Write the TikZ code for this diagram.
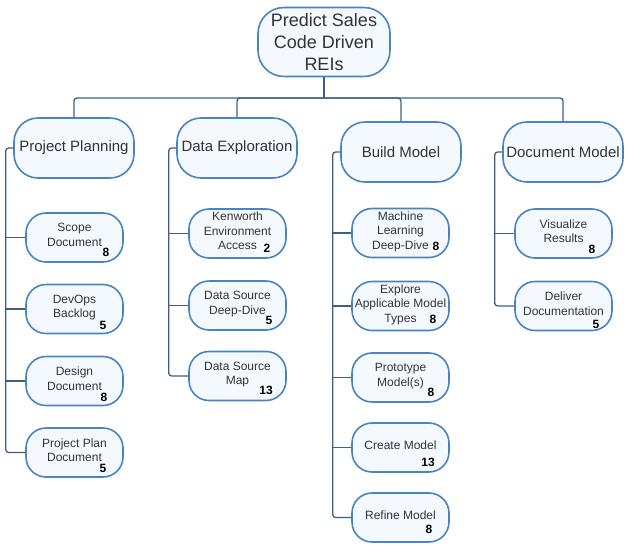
\documentclass[tikz,border=0pt]{standalone}
\usepackage{fontspec}
\setmainfont{Liberation Sans}
\definecolor{boxline}{HTML}{4A84C0}
\definecolor{boxfill}{HTML}{F4F9FF}
\definecolor{wire}{HTML}{3E5F85}
\definecolor{txt}{HTML}{333333}
\begin{document}
\begin{tikzpicture}
  [x=1pt,y=-1pt,
   every node/.style={draw=boxline,line width=1.6pt,fill=boxfill,text=txt,align=center,inner sep=1pt},
   rootbox/.style={minimum width=132pt,minimum height=69pt,rounded corners=26pt,font=\fontsize{18}{22}\selectfont},
   phasebox/.style={minimum width=120pt,minimum height=60pt,rounded corners=24pt,font=\fontsize{15}{18}\selectfont},
   taskbox/.style={minimum width=97pt,minimum height=49pt,rounded corners=20pt,text depth=5pt,font=\fontsize{12}{14.5}\selectfont},
   ptsbox/.style={draw=none,fill=none,text=black,inner sep=0pt,font=\fontsize{12}{14}\selectfont\bfseries},
   link/.style={draw=wire,line width=1.3pt,rounded corners=3pt}]
  \useasboundingbox (0,0) rectangle (631,550);
  \node[rootbox] (root) at (324,42) {Predict Sales\\Code Driven\\REIs};
  \node[phasebox] (pp) at (74,148) {Project Planning};
  \node[phasebox] (de) at (237,148) {Data Exploration};
  \node[phasebox] (bm) at (401,152) {Build Model};
  \node[phasebox] (dm) at (563,152) {Document Model};

  \node[taskbox] (p1) at (74.5,237.5) {Scope\\Document};
  \node[taskbox] (p2) at (74.5,309) {DevOps\\Backlog};
  \node[taskbox] (p3) at (74.5,381) {Design\\Document};
  \node[taskbox] (p4) at (74.5,452.5) {Project Plan\\Document};
  \node[taskbox] (d1) at (237.5,233.5) {Kenworth\\Environment\\Access};
  \node[taskbox] (d2) at (237.5,305.5) {Data Source\\Deep-Dive};
  \node[taskbox] (d3) at (237.5,376) {Data Source\\Map};
  \node[taskbox] (b1) at (400.5,233) {Machine\\Learning\\Deep-Dive};
  \node[taskbox] (b2) at (400.5,306) {Explore\\Applicable Model\\Types};
  \node[taskbox] (b3) at (400.5,377.5) {Prototype\\Model(s)};
  \node[taskbox] (b4) at (400.5,447.5) {Create Model};
  \node[taskbox] (b5) at (400.5,517.5) {Refine Model};
  \node[taskbox] (m1) at (563.5,233.5) {Visualize\\Results};
  \node[taskbox] (m2) at (563.5,306) {Deliver\\Documentation};

  % story points
  \foreach \t/\v/\px/\py in {p1/8/106/252,p2/5/103/325,p3/8/104/397,p4/5/103/468,
    d1/2/267/248,d2/5/269/320,d3/13/266/390,
    b1/8/436/246,b2/8/433/319,b3/8/431/392,b4/13/428/462,b5/8/429/529,
    m1/8/592/249,m2/5/596/324}
    \node[ptsbox] (\t-pts) at (\px,\py) {\v};

  \coordinate (bus) at (324,98);
  \draw[link] (root.south) -- (bus);
  \foreach \to in {pp,de,bm,dm}
    \draw[link] (bus) -| (\to.north);

  \foreach \col/\last in {pp/p4,de/d3,bm/b5,dm/m2}{
    \path (\col.west) ++(-7.5,0) coordinate (\col-sp);
    \draw[link] (\col.west) -- (\col-sp) |- (\last.west);
  }
  \foreach \col/\c in {pp/p1,pp/p2,pp/p3,de/d1,de/d2,bm/b1,bm/b2,bm/b3,bm/b4,dm/m1}
    \draw[link] (\c.west -| \col-sp) -- (\c.west);
\end{tikzpicture}
\end{document}
